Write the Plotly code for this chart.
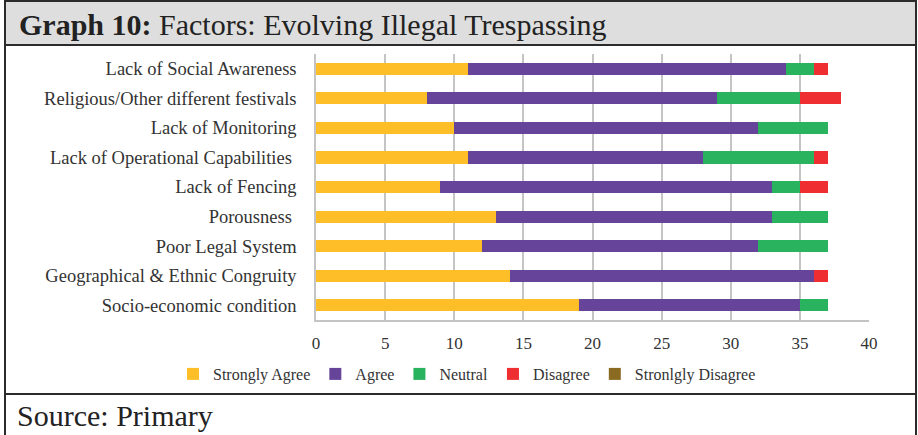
import plotly.graph_objects as go

# Survey responses per factor (count of respondents), top to bottom
factors = [
    "Lack of Social Awareness",
    "Religious/Other different festivals",
    "Lack of Monitoring",
    "Lack of Operational Capabilities\u00a0",
    "Lack of Fencing",
    "Porousness\u00a0",
    "Poor Legal System",
    "Geographical & Ethnic Congruity",
    "Socio-economic condition",
]
strongly_agree = [11, 8, 10, 11, 9, 13, 12, 14, 19]
agree = [23, 21, 22, 17, 24, 20, 20, 22, 16]
neutral = [2, 6, 5, 8, 2, 4, 5, 0, 2]
disagree = [1, 3, 0, 1, 2, 0, 0, 1, 0]
strongly_disagree = [0, 0, 0, 0, 0, 0, 0, 0, 0]

series = [
    ("Strongly Agree", strongly_agree, "#FDBE28"),
    ("Agree", agree, "#65449A"),
    ("Neutral", neutral, "#2AB35F"),
    ("Disagree", disagree, "#EE2E31"),
    ("Stronlgly Disagree", strongly_disagree, "#8B6B22"),
]
x_ticks = [0, 5, 10, 15, 20, 25, 30, 35, 40]

W, H = 918, 435
ML, MR, MT, MB = 316, 49, 54, 115
PW, PH = W - ML - MR, H - MT - MB
FONT = "Liberation Serif, Times New Roman, serif"


def px(x):
    return (x - ML) / PW


def py(y):
    return (H - MB - y) / PH


fig = go.Figure()
for name, vals, color in series:
    fig.add_trace(go.Bar(
        y=factors, x=vals, name=name, orientation="h",
        marker=dict(color=color, line=dict(width=0)),
    ))

shapes = [
    # title band
    dict(type="rect", xref="paper", yref="paper",
         x0=px(5), x1=px(916), y0=py(45), y1=py(1),
         fillcolor="#DEDEDE", line=dict(width=0), layer="below"),
    # outer frame
    dict(type="rect", xref="paper", yref="paper",
         x0=px(5), x1=px(916), y0=py(437), y1=py(1),
         fillcolor="rgba(0,0,0,0)", line=dict(color="#2b2b2b", width=2)),
    dict(type="line", xref="paper", yref="paper",
         x0=px(5), x1=px(916), y0=py(45), y1=py(45),
         line=dict(color="#2b2b2b", width=2)),
    dict(type="line", xref="paper", yref="paper",
         x0=px(5), x1=px(916), y0=py(394), y1=py(394),
         line=dict(color="#2b2b2b", width=2)),
]

annotations = [
    dict(xref="paper", yref="paper", x=px(17), y=py(24), xanchor="left", yanchor="middle",
         text="<b>Graph 10:</b> Factors: Evolving Illegal Trespassing", showarrow=False,
         font=dict(family=FONT, size=30, color="#222222")),
    dict(xref="paper", yref="paper", x=px(15), y=py(415), xanchor="left", yanchor="middle",
         text="Source: Primary", showarrow=False,
         font=dict(family=FONT, size=30, color="#222222")),
]

fig.update_layout(
    width=W, height=H,
    margin=dict(l=ML, r=MR, t=MT, b=MB, pad=0),
    barmode="stack", bargap=0.59,
    paper_bgcolor="white", plot_bgcolor="white",
    font=dict(family=FONT, size=18, color="#333333"),
    shapes=shapes, annotations=annotations,
    legend=dict(orientation="h", x=px(173), y=py(374), xanchor="left", yanchor="middle",
                font=dict(family=FONT, size=16, color="#333333"),
                itemwidth=30, traceorder="normal"),
    xaxis=dict(range=[0, 40], tickvals=x_ticks, showgrid=True, gridcolor="#C4C4C4",
               gridwidth=1.5, zeroline=False, showline=True, linecolor="#C4C4C4",
               linewidth=1.5, ticks="", ticklabelstandoff=7, fixedrange=True,
               tickfont=dict(size=17)),
    yaxis=dict(autorange="reversed", showgrid=False, showline=True, linecolor="#C4C4C4",
               linewidth=1.5, ticks="", ticklabelstandoff=14, fixedrange=True,
               tickfont=dict(size=18.5)),
)

fig.write_html("out.html")
